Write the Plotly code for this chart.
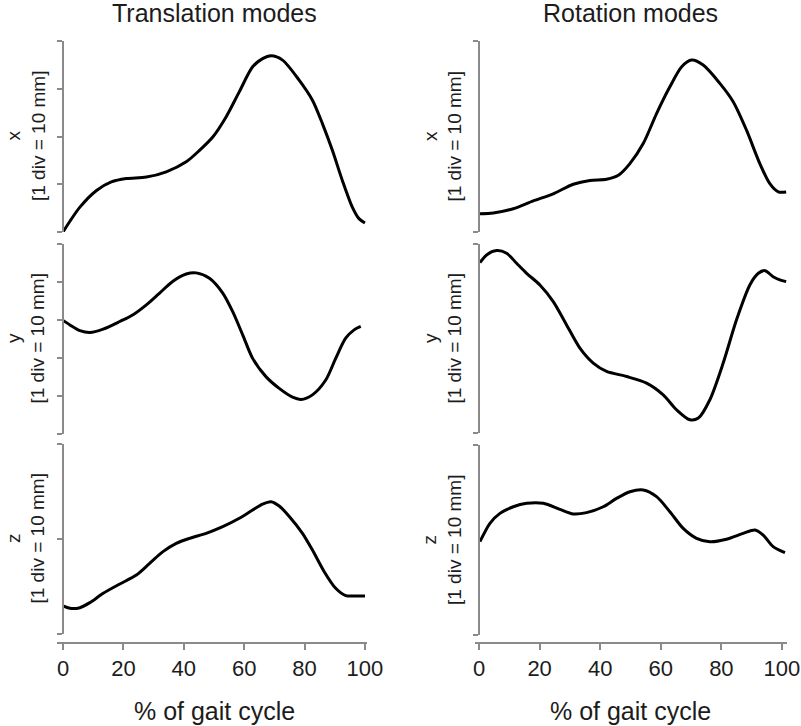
import plotly.graph_objects as go

W, H = 801, 726

# ---- gait-cycle traces (value in mm, 1 division = 10 mm) ----
trans_x_pct = [0, 5.6, 11.1, 16, 21, 27.6, 34.2, 40.8, 45.2, 49.6, 54, 58.4, 62.8, 66.1, 68.9,
               72.7, 78.2, 82.6, 85.9, 89.2, 92.5, 95.8, 98, 100]
trans_x_mm = [0, 5.2, 8.7, 10.5, 11.2, 11.5, 12.6, 14.7, 17.1, 19.9, 24.1, 29.4, 34.6, 36.3, 36.9,
              36.0, 31.8, 27.6, 22.7, 17.1, 10.8, 5.2, 2.8, 1.9]

trans_y_pct = [0, 2.3, 5.6, 8.9, 13.3, 18.8, 23.2, 27.6, 32, 36.4, 40.8, 44.1, 48.5, 52.9, 56.2,
               59.5, 62.8, 67.2, 71.6, 76, 78.8, 82.6, 87, 90.3, 93.6, 96.4, 98.6]
trans_y_mm = [29.9, 28.7, 27.2, 26.7, 27.6, 29.6, 31.4, 34.0, 37.1, 40.2, 42.1, 42.4, 41.0, 37.1, 32.2,
              26.1, 19.9, 15.1, 12.0, 9.7, 9.1, 10.3, 14.2, 19.9, 25.2, 27.4, 28.3]

trans_z_pct = [0, 2.3, 5.6, 8.9, 13.3, 18.8, 24.3, 28.7, 33.1, 37.5, 41.9, 47.4, 52.9, 58.4, 62.8,
               66.1, 68.9, 71.6, 75, 79.3, 82.6, 86.5, 90.3, 93.6, 96.9, 100]
trans_z_mm = [2.95, 2.70, 2.77, 3.30, 4.28, 5.26, 6.21, 7.44, 8.67, 9.54, 10.07, 10.6, 11.3, 12.18, 13.05,
              13.68, 13.93, 13.47, 12.35, 10.6, 8.84, 6.56, 4.81, 4.04, 4.0, 4.0]

rot_x_pct = [0.3, 4.7, 11.3, 17.9, 24.5, 31.1, 36.6, 42.1, 46, 49.8, 54.2, 58.6, 63, 66.9, 70.2,
             74, 79.5, 83.9, 88.3, 92.7, 96, 98.8, 101.4]
rot_x_mm = [0.96, 1.0, 1.22, 1.63, 2.0, 2.5, 2.7, 2.76, 2.97, 3.58, 4.63, 6.2, 7.6, 8.65, 9.0,
            8.74, 7.78, 6.82, 5.33, 3.58, 2.53, 2.1, 2.1]

rot_y_pct = [0.3, 2.5, 5.8, 9.1, 12.4, 15.7, 20.1, 24.5, 28.9, 33.3, 37.7, 42.1, 48.7, 55.3, 60.8,
             65.2, 69.6, 72.4, 76.2, 80.6, 85, 89.4, 92.2, 94.4, 97.1, 99.3, 101.4]
rot_y_mm = [9.01, 9.42, 9.65, 9.51, 8.98, 8.45, 7.83, 6.95, 5.72, 4.49, 3.70, 3.26, 2.99, 2.64, 2.02,
            1.23, 0.70, 0.79, 1.76, 3.70, 5.99, 7.83, 8.45, 8.59, 8.27, 8.10, 8.01]

rot_z_pct = [0.3, 3.6, 6.9, 11.3, 15.7, 21.2, 26.7, 31.1, 35.5, 41, 45.4, 49.8, 54.2, 58.6, 63,
             67.4, 71.8, 76.2, 81.7, 87.2, 91.1, 93.8, 97.1, 101]
rot_z_mm = [4.91, 5.88, 6.40, 6.75, 6.93, 6.93, 6.61, 6.37, 6.44, 6.75, 7.19, 7.54, 7.63, 7.28, 6.49,
            5.61, 5.09, 4.91, 5.04, 5.35, 5.53, 5.26, 4.65, 4.33]

column_titles = ["Translation modes", "Rotation modes"]
axis_names = ["x", "y", "z"]
x_ticks = [0, 20, 40, 60, 80, 100]
x_title = "% of gait cycle"
y_unit = "[1 div = 10 mm]"

# number of 10 mm divisions shown on each panel's axis
divisions = {(0, 0): 4, (0, 1): 5, (0, 2): 2, (1, 0): 1, (1, 1): 1, (1, 2): 1}

series = {
    (0, 0): (trans_x_pct, trans_x_mm), (0, 1): (trans_y_pct, trans_y_mm), (0, 2): (trans_z_pct, trans_z_mm),
    (1, 0): (rot_x_pct, rot_x_mm), (1, 1): (rot_y_pct, rot_y_mm), (1, 2): (rot_z_pct, rot_z_mm),
}

# ---- layout geometry (pixels) ----
col_px = [(56.96, 367.4), (475.1, 786.8)]
col_range = [(-2.0, 100.8), (-1.3, 101.6)]
zero_px = [63, 479]                      # vertical axis sits at 0 % of the cycle
row_px = {0: [(41, 232), (244, 434), (444, 634)],
          1: [(41, 232), (244, 433), (445, 635)]}
xaxis_line_px = 643

AXIS_GRAY = "#8a8a8a"
TEXT = "#1c1c1c"
FONT = "Liberation Sans, Arial, sans-serif"

fig = go.Figure()
layout = {}
annotations = []

idx = 0
for col in range(2):
    for row in range(3):
        idx += 1
        xa = "xaxis" if idx == 1 else f"xaxis{idx}"
        ya = "yaxis" if idx == 1 else f"yaxis{idx}"
        xr = "x" if idx == 1 else f"x{idx}"
        yr = "y" if idx == 1 else f"y{idx}"
        pct, mm = series[(col, row)]
        fig.add_trace(go.Scatter(x=pct, y=mm, xaxis=xr, yaxis=yr, mode="lines",
                                 line=dict(color="black", width=3, shape="spline", smoothing=0.8),
                                 showlegend=False, hoverinfo="skip", cliponaxis=False))
        x0, x1 = col_px[col]
        top, bot = row_px[col][row]
        nd = divisions[(col, row)]
        xaxis = dict(domain=[x0 / W, x1 / W], range=list(col_range[col]), anchor=yr,
                     showgrid=False, zeroline=False, fixedrange=True, automargin=False)
        if row == 2:
            xaxis.update(anchor="free", position=1 - xaxis_line_px / H, visible=True,
                         showline=True, linecolor=AXIS_GRAY, linewidth=2,
                         ticks="outside", ticklen=6, tickwidth=2, tickcolor=AXIS_GRAY,
                         tickvals=x_ticks, ticktext=[str(v) for v in x_ticks],
                         tickfont=dict(size=22, color=TEXT, family=FONT))
        else:
            xaxis.update(visible=False)
        layout[xa] = xaxis
        layout[ya] = dict(domain=[1 - bot / H, 1 - top / H], range=[0, nd * 10],
                          anchor="free", position=zero_px[col] / W,
                          showgrid=False, zeroline=False, showline=True, linecolor=AXIS_GRAY,
                          linewidth=2, ticks="outside", ticklen=5, tickwidth=2, tickcolor=AXIS_GRAY,
                          tickvals=[10 * k for k in range(nd + 1)], showticklabels=False,
                          fixedrange=True, automargin=False)
        # rotated two-line axis name
        label_x = 25.5 if col == 0 else 442
        annotations.append(dict(text=f"{axis_names[row]}<br>{y_unit}", x=label_x / W,
                                y=1 - (top + bot) / 2 / H, xref="paper", yref="paper",
                                textangle=-90, showarrow=False, xanchor="center", yanchor="middle",
                                font=dict(size=19, color=TEXT, family=FONT)))
    center = (63 + 366) / 2 if col == 0 else (479 + 782) / 2
    annotations.append(dict(text=column_titles[col], x=center / W, y=1 - 13 / H, xref="paper",
                            yref="paper", showarrow=False, xanchor="center", yanchor="middle",
                            font=dict(size=25, color=TEXT, family=FONT)))
    annotations.append(dict(text=x_title, x=center / W, y=1 - 711 / H, xref="paper",
                            yref="paper", showarrow=False, xanchor="center", yanchor="middle",
                            font=dict(size=25, color=TEXT, family=FONT)))

fig.update_layout(width=W, height=H, autosize=False, margin=dict(l=0, r=0, t=0, b=0, pad=0),
                  paper_bgcolor="white", plot_bgcolor="white", annotations=annotations,
                  font=dict(family=FONT, color=TEXT), **layout)

fig.write_html("out.html", config={"displayModeBar": False})
